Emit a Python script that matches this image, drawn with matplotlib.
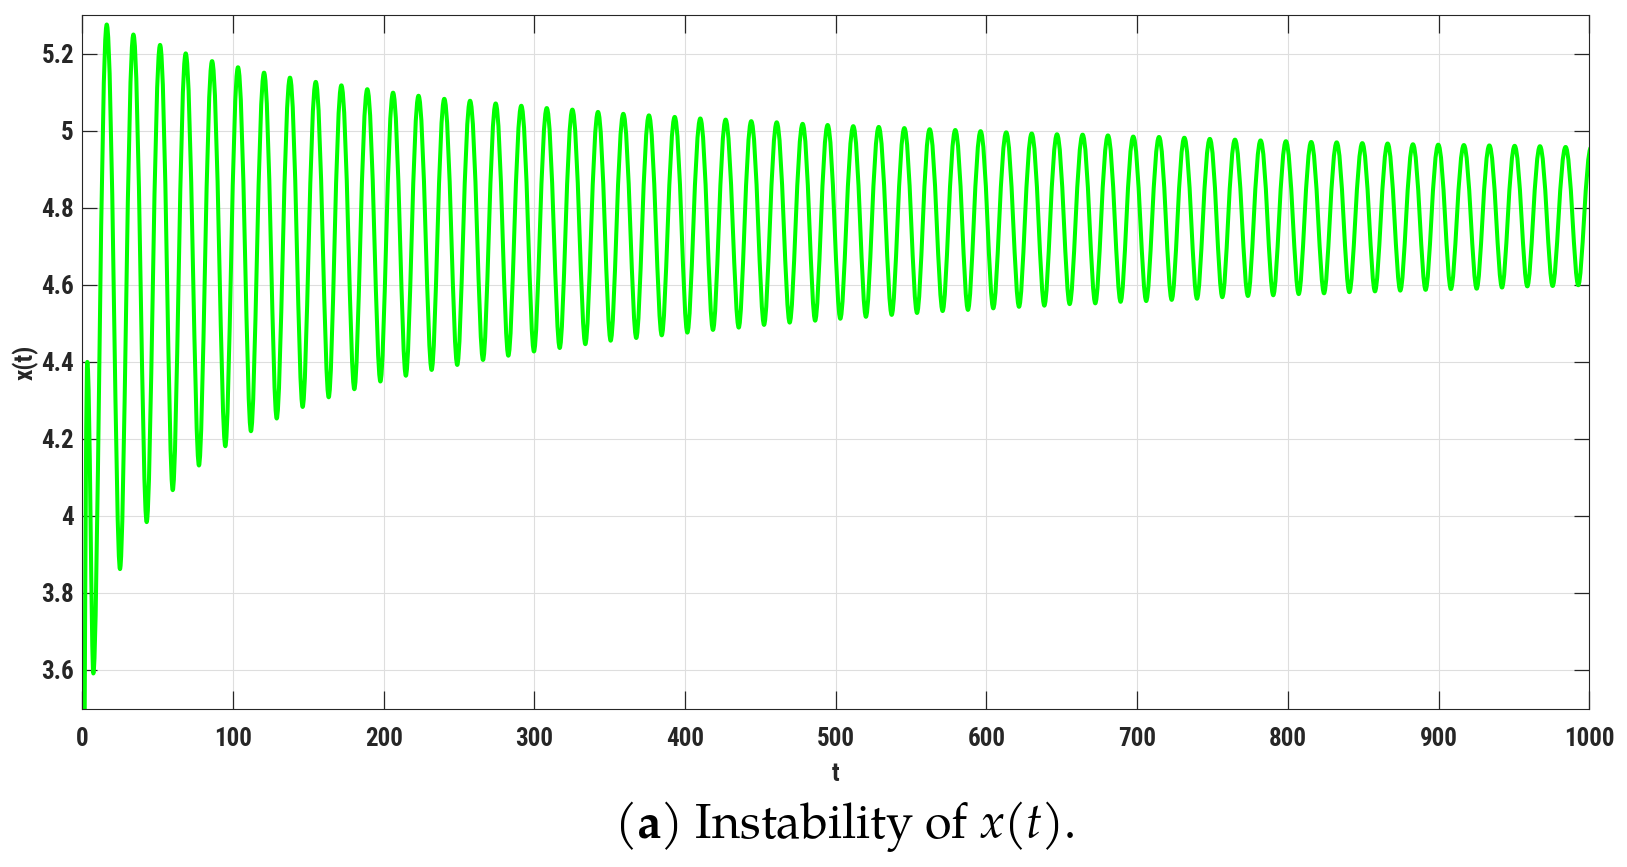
import matplotlib
matplotlib.use('Agg')
import matplotlib.pyplot as plt
from matplotlib.path import Path
from matplotlib.patches import PathPatch
from matplotlib.ticker import FuncFormatter
from matplotlib import font_manager

# extrema of x(t) (t, value)
start_t = [0.0]
start_x = [2.5]

peak_t = [3.3, 16.2, 33.9, 51.6, 68.6, 86.1, 103.3, 120.6, 137.8, 154.9, 171.9,
          189.1, 206.2, 223.1, 240.2, 257.3, 274.3, 291.3, 308.2, 325.2, 342.2,
          359.0, 376.0, 393.1, 410.1, 426.9, 443.9, 460.8, 478.0, 494.6, 511.6,
          528.5, 545.5, 562.3, 579.3, 596.1, 613.1, 630.0, 646.8, 663.8, 680.6,
          697.4, 714.5, 731.3, 748.2, 764.9, 781.9, 798.7, 815.5, 832.4, 849.4,
          866.2, 883.0, 899.8, 916.8, 933.7, 950.5, 967.3, 984.3, 1001.2]
peak_x = [4.400, 5.276, 5.250, 5.223, 5.201, 5.181, 5.165, 5.151, 5.138, 5.127, 5.118,
          5.108, 5.099, 5.091, 5.083, 5.078, 5.071, 5.065, 5.059, 5.055, 5.049,
          5.044, 5.040, 5.036, 5.032, 5.029, 5.025, 5.022, 5.018, 5.015, 5.012,
          5.010, 5.007, 5.004, 5.002, 4.999, 4.996, 4.993, 4.991, 4.990, 4.988,
          4.985, 4.984, 4.982, 4.979, 4.977, 4.975, 4.973, 4.971, 4.970, 4.968,
          4.967, 4.965, 4.964, 4.963, 4.962, 4.961, 4.960, 4.958, 4.957]

trough_t = [7.3, 25.0, 42.7, 60.0, 77.4, 94.9, 111.9, 129.0, 146.2, 163.5,
            180.5, 197.8, 214.7, 231.8, 248.8, 265.9, 282.7, 299.7, 316.8, 333.8,
            350.6, 367.6, 384.5, 401.5, 418.5, 435.6, 452.4, 469.4, 486.3, 503.0,
            520.0, 537.1, 553.9, 570.9, 587.7, 604.5, 621.6, 638.4, 655.2, 672.2,
            689.0, 706.0, 722.9, 739.7, 756.5, 773.5, 790.3, 807.2, 824.0, 840.8,
            857.8, 874.6, 891.4, 908.2, 925.3, 942.1, 958.9, 975.7, 992.7]
trough_x = [3.591, 3.862, 3.984, 4.067, 4.131, 4.181, 4.220, 4.253, 4.283, 4.308,
            4.329, 4.349, 4.364, 4.379, 4.392, 4.405, 4.416, 4.427, 4.436, 4.446,
            4.455, 4.462, 4.469, 4.476, 4.483, 4.489, 4.496, 4.502, 4.507, 4.512,
            4.517, 4.522, 4.527, 4.532, 4.535, 4.539, 4.543, 4.546, 4.550, 4.552,
            4.556, 4.558, 4.561, 4.564, 4.568, 4.571, 4.573, 4.576, 4.578, 4.581,
            4.583, 4.585, 4.587, 4.589, 4.590, 4.593, 4.596, 4.597, 4.599]

x_ticks = [0, 100, 200, 300, 400, 500, 600, 700, 800, 900, 1000]
y_ticks = [3.6, 3.8, 4.0, 4.2, 4.4, 4.6, 4.8, 5.0, 5.2]

names = {f.name for f in font_manager.fontManager.ttflist}
sans = 'Roboto Condensed' if 'Roboto Condensed' in names else 'Liberation Sans'
serif = 'TeX Gyre Pagella' if 'TeX Gyre Pagella' in names else 'Liberation Serif'
dark = '#262626'

plt.rcParams['mathtext.fontset'] = 'custom'
plt.rcParams['mathtext.rm'] = serif
plt.rcParams['mathtext.it'] = serif + ':italic'
plt.rcParams['mathtext.bf'] = serif + ':bold'

fig = plt.figure(figsize=(16.27, 8.67), dpi=100)
ax = fig.add_axes([0.0506, 0.1828, 0.9262, 0.7996])

# smooth curve through the extrema: flat tangents at every extremum,
# peaks a bit rounder than the troughs
pts = sorted(zip(start_t + peak_t + trough_t, start_x + peak_x + trough_x))
peaks = set(peak_t)
verts = [pts[0]]
codes = [Path.MOVETO]
for (t0, v0), (t1, v1) in zip(pts[:-1], pts[1:]):
    dt = t1 - t0
    k0 = 0.41 if t0 in peaks else 0.31
    k1 = 0.41 if t1 in peaks else 0.31
    verts += [(t0 + k0 * dt, v0), (t1 - k1 * dt, v1), (t1, v1)]
    codes += [Path.CURVE4] * 3
ax.add_patch(PathPatch(Path(verts, codes), facecolor='none', edgecolor='#00ff00',
                       linewidth=2.9, joinstyle='round', capstyle='round'))

ax.set_xlim(0, 1000)
ax.set_ylim(3.5, 5.3)
ax.set_xticks(x_ticks)
ax.set_yticks(y_ticks)
ax.yaxis.set_major_formatter(FuncFormatter(lambda v, p: '%g' % round(v, 2)))
ax.grid(True, color='#dedede', linewidth=0.8)
ax.set_axisbelow(True)
ax.tick_params(axis='both', direction='in', top=True, right=True, color=dark,
               width=0.9, labelcolor=dark)
ax.tick_params(axis='x', length=13, pad=13)
ax.tick_params(axis='y', length=11, pad=6)
for lab in ax.get_xticklabels() + ax.get_yticklabels():
    lab.set_fontfamily(sans)
    lab.set_fontweight('bold')
    lab.set_fontsize(18)
for s in ax.spines.values():
    s.set_color(dark)
    s.set_linewidth(0.8)

ax.set_xlabel('t', fontfamily=sans, fontweight='bold', fontsize=18, color=dark, labelpad=8)
ax.set_ylabel('x(t)', fontfamily=sans, fontweight='bold', fontsize=18, color=dark, labelpad=2)

fig.text(0.5189, 0.034, r'($\mathbf{a}$) Instability of $x(t)$.', ha='center', va='baseline',
         fontfamily=serif, fontsize=35, color='black')

fig.savefig('out.png', dpi=100)
